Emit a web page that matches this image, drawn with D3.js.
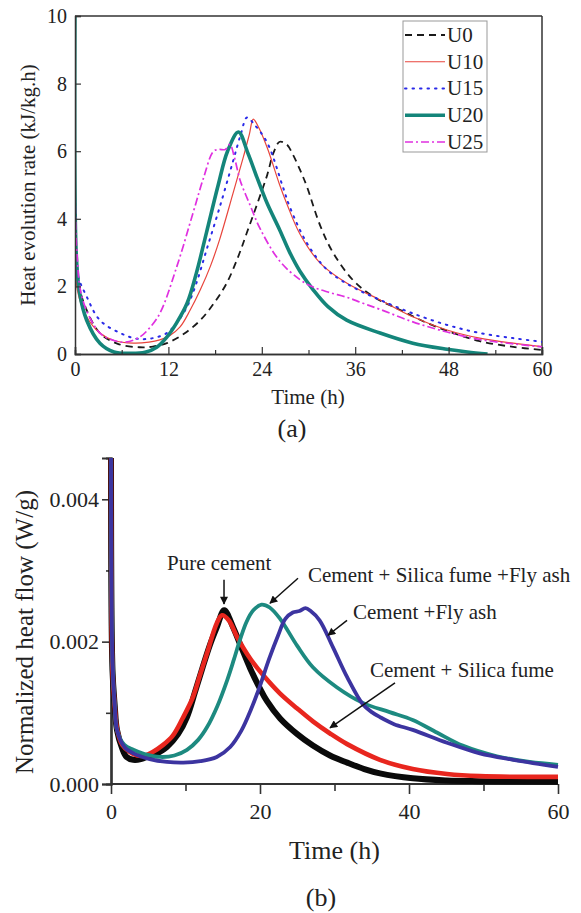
<!DOCTYPE html>
<html>
<head>
<meta charset="utf-8">
<script src="https://cdn.jsdelivr.net/npm/d3@7"></script>
<style>
  html, body { margin: 0; padding: 0; background: #fff; }
  svg { display: block; }
  svg text { font-family: "Liberation Serif", "Tinos", "Times New Roman", serif; fill: #222; }
</style>
</head>
<body>
<svg id="chart" width="581" height="913"></svg>
<script>
// ---------------- Data: panel (a) ----------------
const seriesNamesA = ["U0", "U10", "U15", "U20", "U25"];
const xTicksA = [0, 12, 24, 36, 48, 60];
const xMinorTicksA = [6, 18, 30, 42, 54];
const yTicksA = [0, 2, 4, 6, 8, 10];

const U0 = [[0,2.8],[0.4,2.1],[1.5,1.3],[3.2,0.62],[5.5,0.3],[8.3,0.2],[10,0.22],[11.8,0.32],[14,0.6],[16.1,1.0],[18,1.55],[19.5,2.1],[21,2.9],[22.1,3.6],[23.5,4.5],[24.7,5.3],[25.5,5.95],[26.3,6.28],[27.2,6.2],[28,5.9],[29,5.4],[29.8,4.95],[31.5,3.8],[33.2,2.98],[35.7,2.19],[38.3,1.7],[41.8,1.3],[45.2,0.92],[48.6,0.62],[52,0.38],[56.3,0.21],[60,0.12]];
const U10 = [[0,3.5],[0.3,1.9],[1.5,1.1],[3.2,0.62],[5,0.4],[7.5,0.32],[9.5,0.35],[10.9,0.42],[12.2,0.55],[13.5,0.8],[14.8,1.3],[16.1,1.9],[17.4,2.6],[18.6,3.4],[20.3,4.75],[21.6,5.8],[22.4,6.5],[22.9,6.95],[23.6,6.7],[24.7,6.1],[26.3,5.0],[27.2,4.45],[28.9,3.55],[31.5,2.69],[34.9,2.1],[39.2,1.6],[43.4,1.1],[47.8,0.71],[52,0.47],[56.3,0.32],[60,0.22]];
const U15 = [[0,4.5],[0.3,2.4],[1.5,1.7],[3.2,1.0],[5.8,0.62],[8,0.45],[10,0.47],[11.8,0.62],[13,0.9],[14.4,1.4],[15.6,2.1],[16.9,3.08],[18.6,4.35],[20.3,5.7],[21.3,6.5],[22.1,7.0],[23,6.8],[24.7,6.25],[26.7,4.95],[27.6,4.35],[29.8,3.28],[32.4,2.49],[35.7,1.98],[39.2,1.6],[43.4,1.2],[47.8,0.86],[52,0.62],[56.3,0.47],[60,0.36]];
const U20 = [[0,10.5],[0.15,3.0],[0.6,1.8],[1.5,1.0],[3.2,0.32],[5,0.06],[7,0.02],[9,0.05],[10.5,0.2],[11.8,0.5],[13,0.9],[14.4,1.5],[15.6,2.4],[16.9,3.6],[18.4,5.0],[19.6,6.0],[21,6.57],[22.2,5.95],[23.5,5.15],[24.7,4.45],[26.3,3.67],[27.6,3.0],[28.9,2.45],[30.6,1.9],[32.5,1.4],[34.9,1.0],[39.2,0.62],[43.4,0.32],[47.8,0.14],[50.4,0.06],[53,0.0]];
const U25 = [[0,7.7],[0.2,3.2],[1.0,1.6],[3.2,0.62],[5,0.4],[6.5,0.35],[8.3,0.5],[9.5,0.75],[10.9,1.2],[13.1,2.6],[15.2,4.2],[16.5,5.2],[17.8,6.0],[18.5,6.05],[19.3,6.05],[19.9,6.2],[20.5,5.8],[21.2,5.15],[22.5,4.4],[23.8,3.7],[26.3,2.75],[28.9,2.2],[30.6,1.98],[32.7,1.82],[34.9,1.68],[37,1.5],[39.2,1.32],[43.4,0.95],[47.8,0.65],[52,0.43],[56.3,0.3],[60,0.21]];

// ---------------- Data: panel (b) ----------------
const seriesNamesB = ["Pure cement", "Cement + Silica fume", "Cement + Silica fume +Fly ash", "Cement +Fly ash"];
const xTicksB = [0, 20, 40, 60];
const xMinorTicksB = [10, 30, 50];
const yTicksB = [0, 0.002, 0.004];
const yMinorTicksB = [0.001, 0.003];

const pureCement = [[0,0.0048],[0.2,0.0016],[0.5,0.0011],[0.8,0.00076],[1.5,0.0005],[2.1,0.00038],[3,0.00034],[4,0.00035],[5.2,0.0004],[6.5,0.00045],[7.5,0.00052],[9,0.0007],[10.2,0.00094],[11.3,0.0013],[12.3,0.00164],[13.3,0.00196],[14.2,0.0022],[15.2,0.00244],[16.4,0.0022],[17.5,0.00192],[18.7,0.00162],[20,0.00134],[20.9,0.00117],[22.7,0.00092],[25,0.0007],[27.1,0.00054],[29.4,0.0004],[31.7,0.0003],[34,0.00021],[36.1,0.00015],[40.5,0.00008],[45,0.00005],[49.5,0.00004],[60,0.00003]];
const silicaFume = [[0,0.0048],[0.2,0.0016],[0.5,0.0011],[0.8,0.00078],[1.5,0.00055],[2.5,0.00045],[3.5,0.0004],[4.5,0.0004],[5.6,0.00045],[7,0.00055],[8.3,0.00068],[9.6,0.00092],[11,0.00122],[12,0.00155],[12.9,0.00184],[14.2,0.00226],[14.9,0.00237],[15.8,0.0023],[17,0.00205],[18.7,0.00176],[20.5,0.00152],[22.7,0.00127],[25,0.00106],[27.1,0.00088],[29.4,0.00071],[31.7,0.00056],[36.1,0.00034],[40.5,0.00021],[45.1,0.00014],[49.5,0.00011],[60,0.0001]];
const silicaFlyAsh = [[0,0.0048],[0.2,0.0017],[0.5,0.0011],[0.8,0.00076],[1.8,0.00055],[3,0.00048],[4.5,0.00042],[6.6,0.00038],[8.5,0.0004],[10.2,0.00048],[11.7,0.00062],[12.9,0.0008],[14.3,0.0011],[15.6,0.00146],[16.5,0.00175],[17.3,0.00202],[18.2,0.00228],[19.1,0.00244],[20.2,0.00252],[21.3,0.00248],[22.7,0.00232],[25,0.00194],[27.1,0.00164],[30.3,0.00136],[33.8,0.00114],[37.4,0.00101],[40.5,0.0009],[43.8,0.00072],[47.2,0.00054],[51.8,0.00039],[56.2,0.00031],[60,0.00027]];
const flyAsh = [[0,0.0048],[0.2,0.0017],[0.5,0.0011],[0.8,0.00076],[1.8,0.00052],[3,0.00043],[5.2,0.00035],[7.5,0.00031],[9.7,0.0003],[12,0.00032],[14.2,0.00038],[16,0.00052],[17.5,0.00075],[18.8,0.00105],[20,0.00138],[21.2,0.00175],[22.4,0.00208],[23.4,0.00232],[24.4,0.00241],[25.3,0.00243],[26.1,0.00247],[26.8,0.00243],[28,0.0023],[29.8,0.00192],[31.7,0.0015],[33.8,0.00112],[35,0.00101],[36.1,0.00094],[38,0.00084],[40.5,0.00076],[45.1,0.00058],[49.5,0.00043],[54,0.00034],[60,0.00024]];

// Annotation anchors in data units
const annLabelsB = ["Pure cement", "Cement + Silica fume +Fly ash", "Cement +Fly ash", "Cement + Silica fume"];
const annLabelPosB = [[7.52,0.00301],[26.44,0.00284],[32.48,0.00232],[34.77,0.00150]];
const annArrowFromB = [[15.17,0.00287],[25.1,0.00289],[31.68,0.00230],[38.12,0.00142]];
const annArrowToB = [[15.17,0.00253],[21.34,0.00254],[29.13,0.00209],[29.4,0.00079]];

// ---------------- Drawing ----------------
const svg = d3.select("#chart");
svg.append("rect").attr("width", 581).attr("height", 913).attr("fill", "#fff");
const axisColor = "#333";
const defs = svg.append("defs");
const curve = d3.curveCatmullRom.alpha(0.5);

// ===== Panel (a) =====
const xA = d3.scaleLinear().domain([0, 60]).range([75, 542]);
const yA = d3.scaleLinear().domain([0, 10]).range([354, 16]);
const gA = svg.append("g");
defs.append("clipPath").attr("id", "clipA")
  .append("rect").attr("x", 75).attr("y", 16).attr("width", 467).attr("height", 338);

const stylesA = [
  { data: U0,  color: "#1a1a1a", width: 1.8, dash: "7,5", cap: "butt" },
  { data: U10, color: "#e8453c", width: 1.2, dash: null, cap: "butt" },
  { data: U15, color: "#2a2ae8", width: 2.0, dash: "1.5,6", cap: "round" },
  { data: U20, color: "#14857a", width: 3.6, dash: null, cap: "butt" },
  { data: U25, color: "#e030e0", width: 1.7, dash: "8,3,2,3", cap: "butt" }
];
const lineA = d3.line().x(d => xA(d[0])).y(d => yA(d[1])).curve(curve);

gA.append("line").attr("x1", 75).attr("x2", 542).attr("y1", 16).attr("y2", 16)
  .attr("stroke", axisColor).attr("stroke-width", 1.5);
gA.append("line").attr("x1", 542).attr("x2", 542).attr("y1", 16).attr("y2", 354)
  .attr("stroke", axisColor).attr("stroke-width", 1.5);

const curvesA = gA.append("g").attr("clip-path", "url(#clipA)");
stylesA.forEach(s => {
  curvesA.append("path").attr("d", lineA(s.data)).attr("fill", "none")
    .attr("stroke", s.color).attr("stroke-width", s.width)
    .attr("stroke-dasharray", s.dash).attr("stroke-linecap", s.cap);
});

const axA = gA.append("g").attr("transform", "translate(0,354)")
  .call(d3.axisBottom(xA).tickValues(xTicksA).tickSize(-7).tickPadding(8).tickFormat(d3.format("d")));
const axAm = gA.append("g").attr("transform", "translate(0,354)")
  .call(d3.axisBottom(xA).tickValues(xMinorTicksA).tickSize(-4).tickFormat(""));
const ayA = gA.append("g").attr("transform", "translate(75,0)")
  .call(d3.axisLeft(yA).tickValues(yTicksA).tickSize(-6).tickPadding(8).tickFormat(d3.format("d")));
[axA, axAm, ayA].forEach(a => {
  a.attr("font-family", null);
  a.select(".domain").attr("stroke", axisColor).attr("stroke-width", 1.5);
  a.selectAll(".tick line").attr("stroke", axisColor).attr("stroke-width", 1.2);
  a.selectAll("text").attr("font-size", 20).attr("fill", "#222");
});

gA.append("text").attr("x", 308).attr("y", 404).attr("text-anchor", "middle")
  .attr("font-size", 21).text("Time (h)");
gA.append("text").attr("transform", "translate(28,185) rotate(-90)").attr("dy", "0.35em")
  .attr("text-anchor", "middle").attr("font-size", 21).text("Heat evolution rate (kJ/kg.h)");
gA.append("text").attr("x", 292).attr("y", 437).attr("text-anchor", "middle")
  .attr("font-size", 26).text("(a)");

const leg = gA.append("g");
leg.append("rect").attr("x", 403).attr("y", 21).attr("width", 84).attr("height", 131)
  .attr("fill", "#fff").attr("stroke", "#999").attr("stroke-width", 1);
const legY = d3.scalePoint().domain(seriesNamesA).range([35, 142]);
seriesNamesA.forEach((n, i) => {
  const s = stylesA[i];
  const y = legY(n);
  leg.append("line").attr("x1", 405).attr("x2", 445).attr("y1", y).attr("y2", y)
    .attr("stroke", s.color).attr("stroke-width", s.width)
    .attr("stroke-dasharray", s.dash).attr("stroke-linecap", s.cap);
  leg.append("text").attr("x", 447).attr("y", y).attr("dy", "0.33em")
    .attr("font-size", 21).text(n);
});

// ===== Panel (b) =====
const xB = d3.scaleLinear().domain([0, 60]).range([111, 558]);
const yB = d3.scaleLinear().domain([0, 0.00458]).range([784, 458]);
const gB = svg.append("g");
defs.append("clipPath").attr("id", "clipB")
  .append("rect").attr("x", 108).attr("y", 458).attr("width", 455).attr("height", 330);

const lineB = d3.line().x(d => xB(d[0])).y(d => yB(d[1])).curve(curve);
const stylesB = [
  { data: pureCement,   color: "#0a0a0a", width: 6.0 },
  { data: silicaFume,   color: "#e8261e", width: 4.6 },
  { data: silicaFlyAsh, color: "#1d8a80", width: 3.8 },
  { data: flyAsh,       color: "#3c34a0", width: 3.8 }
];

const axB = gB.append("g").attr("transform", "translate(0,784)")
  .call(d3.axisBottom(xB).tickValues(xTicksB).tickSize(10).tickPadding(9).tickFormat(d3.format("d")));
const axBm = gB.append("g").attr("transform", "translate(0,784)")
  .call(d3.axisBottom(xB).tickValues(xMinorTicksB).tickSize(7).tickFormat(""));
const ayB = gB.append("g").attr("transform", "translate(111,0)")
  .call(d3.axisLeft(yB).tickValues(yTicksB).tickSize(9).tickPadding(3).tickFormat(d3.format(".3f")));
const ayBm = gB.append("g").attr("transform", "translate(111,0)")
  .call(d3.axisLeft(yB).tickValues(yMinorTicksB).tickSize(5).tickFormat(""));
[axB, axBm, ayB, ayBm].forEach(a => {
  a.attr("font-family", null);
  a.select(".domain").attr("stroke", axisColor).attr("stroke-width", 2.2);
  a.selectAll(".tick line").attr("stroke", axisColor).attr("stroke-width", 1.6);
  a.selectAll("text").attr("font-size", 22).attr("fill", "#222");
});
[axB, axBm].forEach(a => a.select(".domain").attr("d", "M111,0H558"));

const curvesB = gB.append("g").attr("clip-path", "url(#clipB)");
stylesB.forEach(s => {
  curvesB.append("path").attr("d", lineB(s.data)).attr("fill", "none")
    .attr("stroke", s.color).attr("stroke-width", s.width).attr("stroke-linejoin", "round");
});

defs.append("marker").attr("id", "arrowB")
  .attr("viewBox", "0 0 10 10").attr("refX", 9).attr("refY", 5)
  .attr("markerWidth", 9).attr("markerHeight", 8).attr("markerUnits", "userSpaceOnUse")
  .attr("orient", "auto")
  .append("path").attr("d", "M0,0L10,5L0,10z").attr("fill", "#111");
annLabelsB.forEach((lab, i) => {
  const [lt, lv] = annLabelPosB[i];
  gB.append("text").attr("x", xB(lt)).attr("y", yB(lv)).attr("font-size", 21).text(lab);
  const [ft, fv] = annArrowFromB[i];
  const [tt, tv] = annArrowToB[i];
  gB.append("line").attr("x1", xB(ft)).attr("y1", yB(fv)).attr("x2", xB(tt)).attr("y2", yB(tv))
    .attr("stroke", "#111").attr("stroke-width", 1.5).attr("marker-end", "url(#arrowB)");
});

gB.append("text").attr("x", 334.5).attr("y", 859).attr("text-anchor", "middle")
  .attr("font-size", 26).text("Time (h)");
gB.append("text").attr("transform", "translate(24,632) rotate(-90)").attr("dy", "0.35em")
  .attr("text-anchor", "middle").attr("font-size", 25).text("Normalized heat flow (W/g)");
gB.append("text").attr("x", 321).attr("y", 906).attr("text-anchor", "middle")
  .attr("font-size", 26).text("(b)");
</script>
</body>
</html>
